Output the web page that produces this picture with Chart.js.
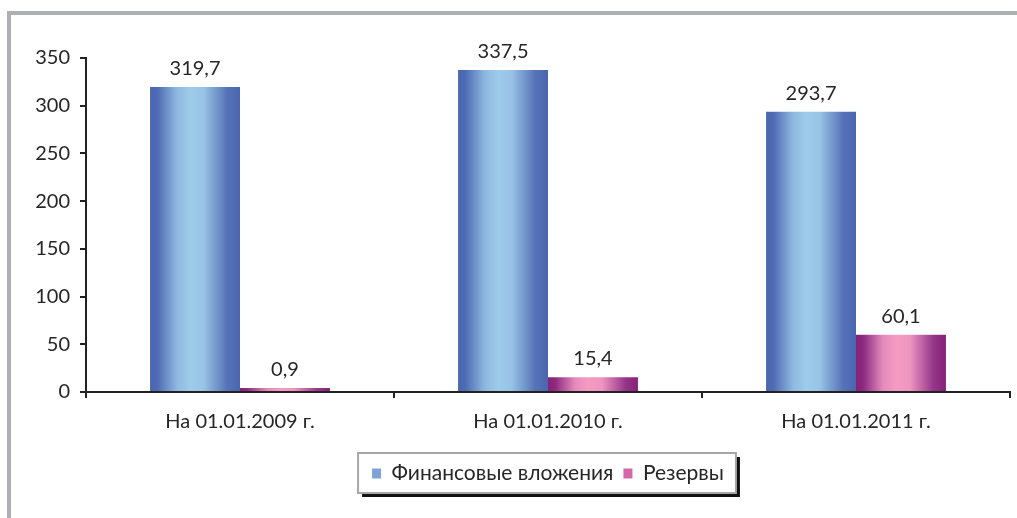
<!DOCTYPE html>
<html>
<head>
<meta charset="utf-8">
<script src="https://cdn.jsdelivr.net/npm/chart.js@4.4.0/dist/chart.umd.min.js"></script>
<style>
  html, body { margin: 0; padding: 0; background: #fff; }
  #wrap { width: 1017px; height: 518px; }
</style>
</head>
<body>
<div id="wrap"><canvas id="chart"></canvas></div>
<script>
// data
const categories = ['На 01.01.2009 г.', 'На 01.01.2010 г.', 'На 01.01.2011 г.'];
const investments = [319.7, 337.5, 293.7];
const reserves = [0.9, 15.4, 60.1];
const seriesNames = ['Финансовые вложения', 'Резервы'];
const yMax = 350;
const yStep = 50;

const FONT = "Lato, 'Noto Sans', sans-serif";
const TEXT = '#262626';

const gradStops = [
  [['#4a66b0', 0], ['#4e6bb3', 0.08], ['#8fb8e0', 0.3], ['#9ecbea', 0.45], ['#97c2e5', 0.6], ['#5672b7', 0.86], ['#4a66b0', 1]],
  [['#862278', 0], ['#8c2a80', 0.08], ['#e58bbb', 0.3], ['#f59bc3', 0.45], ['#ee95c0', 0.6], ['#96358a', 0.86], ['#862278', 1]]
];

// horizontal "cylinder" shading per bar, built from each bar's own geometry
const barShading = {
  id: 'barShading',
  beforeDatasetsDraw(chart) {
    const ctx = chart.ctx;
    chart.data.datasets.forEach((ds, di) => {
      chart.getDatasetMeta(di).data.forEach(el => {
        const { x, width } = el.getProps(['x', 'width'], true);
        const left = x - width / 2;
        const g = ctx.createLinearGradient(left, 0, left + width, 0);
        gradStops[di].forEach(([c, p]) => g.addColorStop(p, c));
        el.options = Object.assign({}, el.options, { backgroundColor: g });
      });
    });
  }
};

// value labels above bars
const valueLabels = {
  id: 'valueLabels',
  afterDatasetsDraw(chart) {
    const ctx = chart.ctx;
    ctx.save();
    ctx.font = '20px ' + FONT;
    ctx.fillStyle = TEXT;
    ctx.textAlign = 'center';
    ctx.textBaseline = 'alphabetic';
    chart.data.datasets.forEach((ds, di) => {
      chart.getDatasetMeta(di).data.forEach((el, i) => {
        const txt = ds.data[i].toFixed(1).replace('.', ',');
        ctx.fillText(txt, el.x, el.y - 12);
      });
    });
    ctx.restore();
  }
};

// legend sits right of centre in the original
const legendShift = {
  id: 'legendShift',
  afterLayout(chart) {
    chart.legend.left += 33;
    chart.legend.right += 33;
  }
};

// outer frame and legend box with shadow
const frame = {
  id: 'frame',
  beforeDraw(chart) {
    const ctx = chart.ctx;
    ctx.save();
    ctx.fillStyle = '#fff';
    ctx.fillRect(0, 0, chart.width, chart.height);
    ctx.fillStyle = '#adafb2';
    ctx.fillRect(7, 11, 4, chart.height - 11);
    ctx.fillRect(7, 11, chart.width - 7, 4);

    const boxes = chart.legend.legendHitBoxes;
    if (boxes && boxes.length) {
      const first = boxes[0], last = boxes[boxes.length - 1];
      const x0 = first.left - 14, x1 = last.left + last.width + 12;
      const y0 = first.top - 10, y1 = first.top + first.height + 9;
      ctx.fillStyle = '#111';
      ctx.fillRect(x0 + 4, y0 + 4, x1 - x0, y1 - y0);
      ctx.fillStyle = '#fff';
      ctx.fillRect(x0, y0, x1 - x0, y1 - y0);
      ctx.strokeStyle = '#a6a6a6';
      ctx.lineWidth = 2;
      ctx.strokeRect(x0, y0, x1 - x0, y1 - y0);
    }
    ctx.restore();
  }
};

new Chart(document.getElementById('chart'), {
  type: 'bar',
  data: {
    labels: categories,
    datasets: [
      { label: seriesNames[0], data: investments, backgroundColor: '#7fa3d8' },
      { label: seriesNames[1], data: reserves, backgroundColor: '#d467a8' }
    ]
  },
  options: {
    responsive: true,
    maintainAspectRatio: false,
    animation: false,
    categoryPercentage: 0.584,
    barPercentage: 1,
    minBarLength: 4,
    layout: { padding: { left: 20, right: 7, top: 58, bottom: 24 } },
    scales: {
      x: {
        grid: { display: true, drawOnChartArea: false, tickLength: 6, color: '#222', lineWidth: 2 },
        border: { display: true, color: '#222', width: 2 },
        ticks: { color: TEXT, font: { family: FONT, size: 20 }, padding: 12 },
        afterFit(s) { s.height = 61; }
      },
      y: {
        min: 0,
        max: yMax,
        grid: { display: true, drawOnChartArea: false, tickLength: 6, color: '#222', lineWidth: 2 },
        border: { display: true, color: '#222', width: 2 },
        ticks: { stepSize: yStep, color: TEXT, font: { family: FONT, size: 20 }, padding: 10 },
        afterFit(s) { s.width = 66; }
      }
    },
    plugins: {
      legend: {
        position: 'bottom',
        labels: {
          color: TEXT,
          font: { family: FONT, size: 21 },
          boxWidth: 9,
          boxHeight: 10,
          padding: 10
        }
      },
      tooltip: { enabled: false }
    }
  },
  plugins: [frame, legendShift, barShading, valueLabels]
});
</script>
</body>
</html>
